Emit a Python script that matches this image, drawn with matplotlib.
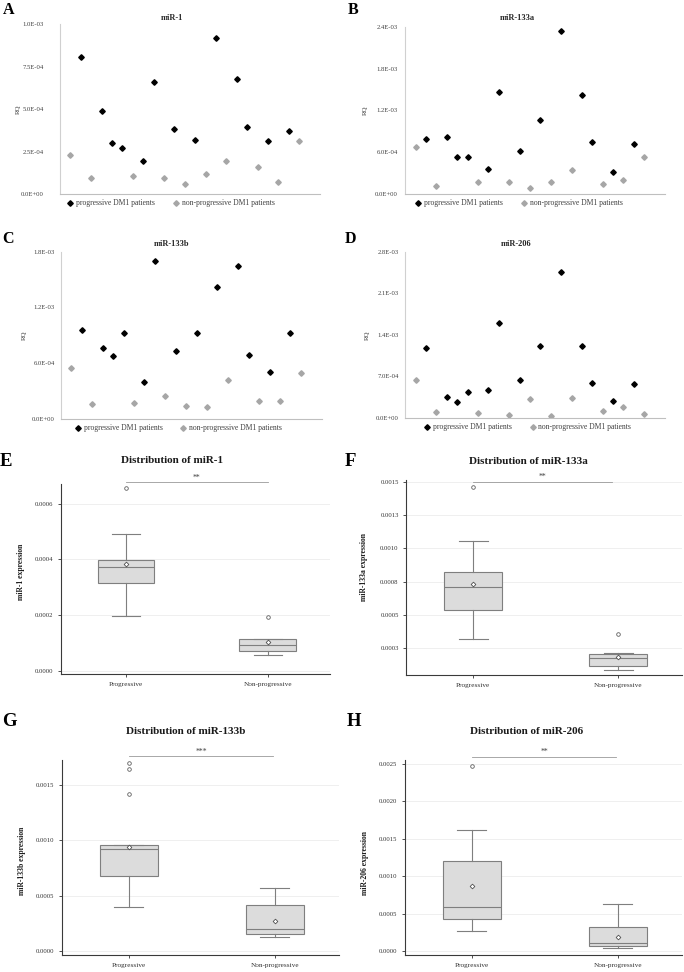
import matplotlib
matplotlib.use('Agg')
import matplotlib.pyplot as plt
from matplotlib.lines import Line2D

plt.rcParams['font.family'] = ['Liberation Serif', 'DejaVu Serif']

W, H = 684, 972

# sample order on the scatter x axis
prog_x = [2, 4, 5, 6, 8, 9, 11, 13, 15, 17, 18, 20, 22]
nonprog_x = [1, 3, 7, 10, 12, 14, 16, 19, 21, 23]

mir1_prog = [8.06e-4, 4.92e-4, 3.02e-4, 2.71e-4, 1.94e-4, 6.61e-4, 3.84e-4,
             3.18e-4, 9.20e-4, 6.78e-4, 3.98e-4, 3.14e-4, 3.73e-4]
mir1_non = [2.29e-4, 9.4e-5, 1.10e-4, 9.4e-5, 5.9e-5, 1.18e-4, 1.94e-4,
            1.61e-4, 7.5e-5, 3.14e-4]
mir133a_prog = [7.92e-4, 8.25e-4, 5.39e-4, 5.34e-4, 3.63e-4, 1.47e-3, 6.20e-4,
                1.059e-3, 2.333e-3, 1.42e-3, 7.44e-4, 3.20e-4, 7.16e-4]
mir133a_non = [6.78e-4, 1.15e-4, 1.77e-4, 1.72e-4, 8.6e-5, 1.72e-4, 3.53e-4,
               1.48e-4, 2.10e-4, 5.30e-4]
mir133b_prog = [9.54e-4, 7.63e-4, 6.70e-4, 9.28e-4, 3.94e-4, 1.702e-3, 7.31e-4,
                9.21e-4, 1.416e-3, 1.645e-3, 6.85e-4, 5.02e-4, 9.21e-4]
mir133b_non = [5.41e-4, 1.54e-4, 1.72e-4, 2.40e-4, 1.36e-4, 1.26e-4, 4.12e-4,
               1.94e-4, 1.94e-4, 4.95e-4]
mir206_prog = [1.176e-3, 3.47e-4, 2.69e-4, 4.31e-4, 4.76e-4, 1.607e-3, 6.38e-4,
               1.21e-3, 2.458e-3, 1.215e-3, 5.93e-4, 2.86e-4, 5.66e-4]
mir206_non = [6.33e-4, 1.0e-4, 8.9e-5, 4.5e-5, 3.19e-4, 3.4e-5, 3.31e-4,
              1.23e-4, 1.85e-4, 7.2e-5]

groups = ['Progressive', 'Non-progressive']
box_mir1 = [[1.96e-4, 3.15e-4, 3.71e-4, 3.98e-4, 4.91e-4, 3.81e-4],
            [5.5e-5, 7.1e-5, 9.1e-5, 1.13e-4, 1.14e-4, 1.03e-4]]
fliers_mir1 = [[6.57e-4], [1.93e-4]]
box_mir133a = [[3.2e-4, 5.37e-4, 7.08e-4, 8.2e-4, 1.053e-3, 7.35e-4],
               [8.7e-5, 1.2e-4, 1.77e-4, 2.1e-4, 2.12e-4, 1.87e-4]]
fliers_mir133a = [[1.46e-3], [3.56e-4]]
box_mir133b = [[3.94e-4, 6.82e-4, 9.21e-4, 9.55e-4, 9.57e-4, 9.42e-4],
               [1.27e-4, 1.52e-4, 1.94e-4, 4.12e-4, 5.67e-4, 2.67e-4]]
fliers_mir133b = [[1.703e-3, 1.648e-3, 1.418e-3], []]
box_mir206 = [[2.66e-4, 4.35e-4, 5.95e-4, 1.208e-3, 1.612e-3, 8.7e-4],
              [4.0e-5, 7.1e-5, 1.07e-4, 3.2e-4, 6.35e-4, 1.95e-4]]
fliers_mir206 = [[2.464e-3], []]


def add_ax(fig, l, r, t, b):
    return fig.add_axes([l / W, 1 - b / H, (r - l) / W, (b - t) / H])


def ftext(fig, x, y, s, **kw):
    return fig.text(x / W, 1 - y / H, s, **kw)


def scatter_panel(fig, box, prog, non, ymax, ticks, labels, title, tx, ty,
                  letter, lx, ly, rq_x, leg_x, leg_y, pad):
    l, r, t, b = box
    ax = add_ax(fig, l, r, t, b)
    ax.plot(prog_x, prog, ls='none', marker='D', ms=2.8, color='black')
    ax.plot(nonprog_x, non, ls='none', marker='D', ms=2.8, color='#a6a6a6')
    ax.set_xlim(0, 25)
    ax.set_ylim(0, ymax)
    ax.set_yticks(ticks)
    ax.set_yticklabels(labels)
    ax.set_xticks([])
    ax.tick_params(axis='y', length=0, pad=pad, labelsize=4.8,
                   labelcolor='#404040')
    for s in ['top', 'right']:
        ax.spines[s].set_visible(False)
    ax.spines['left'].set_color('#d0d0d0')
    ax.spines['bottom'].set_color('#bfbfbf')
    ax.spines['left'].set_linewidth(0.8)
    ax.spines['bottom'].set_linewidth(0.8)
    ftext(fig, tx, ty, title, ha='center', va='center', fontsize=6,
          weight='bold', color='#262626')
    ftext(fig, lx, ly, letter, ha='left', va='baseline', fontsize=11.5,
          weight='bold')
    ftext(fig, rq_x, (t + b) / 2, 'RQ', ha='center', va='center', rotation=90,
          fontsize=5, color='#404040')
    # legend row
    for dx, col, lab in [(0, 'black', 'progressive DM1 patients'),
                         (105.5, '#a6a6a6', 'non-progressive DM1 patients')]:
        fig.add_artist(Line2D([(leg_x + dx) / W], [1 - leg_y / H],
                              transform=fig.transFigure, ls='none', marker='D',
                              ms=2.8, color=col))
        ftext(fig, leg_x + dx + 6, leg_y, lab, ha='left', va='center',
              fontsize=5.5, color='#404040')
    return ax


def box_panel(fig, box, stats, fliers, ylim, ticks, labels, title, tx, ty,
              letter, lx, ly, ylab, ylab_x, ylab_y, sig_y, sig_x1, stars):
    l, r, t, b = box
    ax = add_ax(fig, l, r, t, b)
    bstats = []
    for name, s, f in zip(groups, stats, fliers):
        bstats.append(dict(label=name, whislo=s[0], q1=s[1], med=s[2],
                           q3=s[3], whishi=s[4], mean=s[5], fliers=f))
    ax.bxp(bstats, positions=[0, 1], widths=0.4, showmeans=True,
           patch_artist=True,
           boxprops=dict(facecolor='#dcdcdc', edgecolor='#7f7f7f', lw=0.8),
           medianprops=dict(color='#7f7f7f', lw=0.8),
           whiskerprops=dict(color='#7f7f7f', lw=0.8),
           capprops=dict(color='#7f7f7f', lw=0.8),
           flierprops=dict(marker='o', mfc='none', mec='#606060', ms=2.6,
                           mew=0.6),
           meanprops=dict(marker='D', mfc='white', mec='#505050', ms=2.4,
                          mew=0.6))
    ax.set_xlim(-0.46, 1.44)
    ax.set_ylim(*ylim)
    ax.set_yticks(ticks)
    ax.set_yticklabels(labels)
    ax.yaxis.grid(True, color='#ececec', lw=0.6)
    ax.set_axisbelow(True)
    ax.tick_params(axis='y', length=2.5, width=0.6, pad=3, labelsize=4.8,
                   labelcolor='#333333', color='#333333')
    ax.tick_params(axis='x', length=2.5, width=0.6, pad=3, labelsize=5.2,
                   labelcolor='#333333', color='#333333')
    for s in ['top', 'right']:
        ax.spines[s].set_visible(False)
    for s in ['left', 'bottom']:
        ax.spines[s].set_color('#3a3a3a')
        ax.spines[s].set_linewidth(0.8)
    ax.plot([0, sig_x1], [sig_y, sig_y], color='#9a9a9a', lw=0.6,
            clip_on=False)
    ax.annotate(stars, xy=(0.5 * sig_x1, sig_y), xytext=(0, 0.3),
                textcoords='offset points', ha='center', va='bottom',
                fontsize=5.5, color='#404040', annotation_clip=False)
    ftext(fig, tx, ty, title, ha='center', va='center', fontsize=8,
          weight='bold', color='#1a1a1a')
    ftext(fig, lx, ly, letter, ha='left', va='baseline', fontsize=13.5,
          weight='bold')
    ftext(fig, ylab_x, ylab_y, ylab, ha='center', va='center', rotation=90,
          fontsize=5.5, weight='bold', color='#1a1a1a')
    return ax


fig = plt.figure(figsize=(W / 100, H / 100), dpi=100)

scatter_panel(fig, (60, 320, 24.3, 194.3), mir1_prog, mir1_non, 1.0e-3,
              [0, 2.5e-4, 5e-4, 7.5e-4, 1e-3],
              ['0.0E+00', '2.5E-04', '5.0E-04', '7.5E-04', '1.0E-03'],
              'miR-1', 171.7, 18.3, 'A', 3, 14, 18, 70, 202.7, 11.5)
scatter_panel(fig, (405.3, 665, 26.7, 194.3), mir133a_prog, mir133a_non,
              2.4e-3, [0, 6e-4, 1.2e-3, 1.8e-3, 2.4e-3],
              ['0.0E+00', '6.0E-04', '1.2E-03', '1.8E-03', '2.4E-03'],
              'miR-133a', 517.7, 18, 'B', 348, 14, 365, 418, 202.7, 5.5)
scatter_panel(fig, (61, 321.7, 251.7, 418.5), mir133b_prog, mir133b_non,
              1.8e-3, [0, 6e-4, 1.2e-3, 1.8e-3],
              ['0.0E+00', '6.0E-04', '1.2E-03', '1.8E-03'],
              'miR-133b', 171.7, 244.3, 'C', 2, 243, 24, 77.7, 427.7, 4.5)
scatter_panel(fig, (405.3, 665, 251.7, 418), mir206_prog, mir206_non,
              2.8e-3, [0, 7e-4, 1.4e-3, 2.1e-3, 2.8e-3],
              ['0.0E+00', '7.0E-04', '1.4E-03', '2.1E-03', '2.8E-03'],
              'miR-206', 515.7, 244.3, 'D', 345, 243, 367.5, 427, 426.7, 4.8)

box_panel(fig, (61, 330, 484.3, 674.3), box_mir1, fliers_mir1,
          (-1.36e-5, 6.69e-4), [0, 2e-4, 4e-4, 6e-4],
          ['0.0000', '0.0002', '0.0004', '0.0006'],
          'Distribution of miR-1', 171.7, 460.7, 'E', 0, 466,
          'miR-1 expression', 21, 571.7, 6.77e-4, 1.0, '**')
box_panel(fig, (406.3, 682, 480, 675), box_mir133a, fliers_mir133a,
          (5.0e-5, 1.513e-3), [2.5e-4, 5e-4, 7.5e-4, 1e-3, 1.25e-3, 1.5e-3],
          ['0.0003', '0.0005', '0.0008', '0.0010', '0.0013', '0.0015'],
          'Distribution of miR-133a', 528.7, 461.7, 'F', 345, 466,
          'miR-133a expression', 364, 566.7, 1.5e-3, 0.96, '**')
box_panel(fig, (61.7, 339, 760, 955.3), box_mir133b, fliers_mir133b,
          (-4.2e-5, 1.73e-3), [0, 5e-4, 1e-3, 1.5e-3],
          ['0.0000', '0.0005', '0.0010', '0.0015'],
          'Distribution of miR-133b', 185.8, 731, 'G', 2, 726,
          'miR-133b expression', 22, 860.7, 1.764e-3, 0.99, '***')
box_panel(fig, (404.7, 682, 760, 955.3), box_mir206, fliers_mir206,
          (-5.3e-5, 2.549e-3), [0, 5e-4, 1e-3, 1.5e-3, 2e-3, 2.5e-3],
          ['0.0000', '0.0005', '0.0010', '0.0015', '0.0020', '0.0025'],
          'Distribution of miR-206', 527, 731.7, 'H', 347, 726,
          'miR-206 expression', 364.5, 863, 2.593e-3, 0.99, '**')

fig.savefig('out.png', dpi=100)
